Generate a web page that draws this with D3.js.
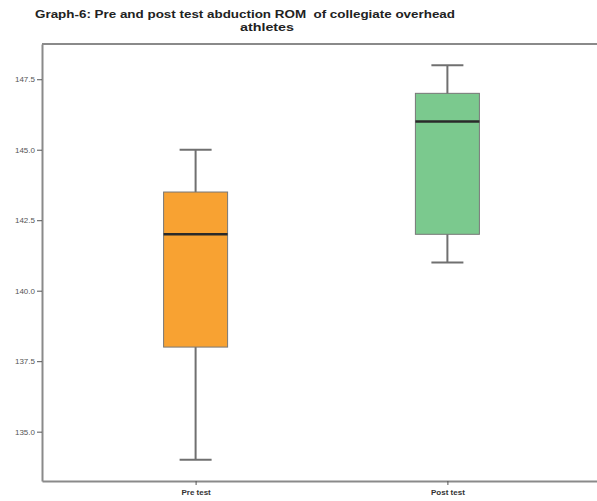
<!DOCTYPE html>
<html>
<head>
<meta charset="utf-8">
<script src="https://cdn.jsdelivr.net/npm/d3@7"></script>
<style>
  body { margin: 0; background: #fff; }
  svg text { font-family: Arial, "Liberation Sans", sans-serif; }
</style>
</head>
<body>
<svg id="chart" width="597" height="501"></svg>
<script>
// box plot data
var groups = ["Pre test", "Post test"];
var whiskerLow = [134, 141];
var q1 = [138, 142];
var median = [142, 146];
var q3 = [143.5, 147];
var whiskerHigh = [145, 148];
var fills = ["#F8A232", "#7BC98E"];
var yTicks = [135, 137.5, 140, 142.5, 145, 147.5];

var svg = d3.select("#chart");

var x = d3.scalePoint().domain(groups).range([42, 601]).padding(0.61);
var y = d3.scaleLinear().domain([133.25, 148.75]).range([481, 44]);

// title
svg.append("text").attr("x", 245).attr("y", 18).attr("text-anchor", "middle")
  .attr("xml:space", "preserve")
  .attr("textLength", 420).attr("lengthAdjust", "spacingAndGlyphs")
  .style("font-size", "11px").style("font-weight", "bold").attr("fill", "#222")
  .text("Graph-6: Pre and post test abduction ROM  of collegiate overhead");
svg.append("text").attr("x", 267).attr("y", 31).attr("text-anchor", "middle")
  .attr("textLength", 54).attr("lengthAdjust", "spacingAndGlyphs")
  .style("font-size", "11px").style("font-weight", "bold").attr("fill", "#222")
  .text("athletes");

// frame top
svg.append("line").attr("x1", 42).attr("x2", 597).attr("y1", 44).attr("y2", 44)
  .attr("stroke", "#8a8a8a").attr("stroke-width", 2);

// y axis
var yAxis = d3.axisLeft(y).tickValues(yTicks).tickFormat(d3.format(".1f"))
  .tickSize(5).tickSizeOuter(0).tickPadding(2);
var gy = svg.append("g").attr("transform", "translate(42,0)").call(yAxis);
gy.select(".domain").attr("stroke", "#8a8a8a").attr("stroke-width", 2);
gy.selectAll(".tick line").attr("stroke", "#555");
gy.selectAll(".tick text").style("font-size", "8px").attr("fill", "#555");

// x axis
var xAxis = d3.axisBottom(x).tickSize(4).tickSizeOuter(0).tickPadding(4);
var gx = svg.append("g").attr("transform", "translate(0,481)").call(xAxis);
gx.select(".domain").attr("stroke", "#8a8a8a").attr("stroke-width", 2);
gx.selectAll(".tick line").attr("stroke", "#555");
gx.selectAll(".tick text").style("font-size", "8px").style("font-weight", "bold").attr("fill", "#333");

var boxW = 64, capW = 32;
var boxes = svg.selectAll("g.box").data(groups).enter().append("g").attr("class", "box");

// whiskers
boxes.append("line")
  .attr("x1", function(d) { return x(d); }).attr("x2", function(d) { return x(d); })
  .attr("y1", function(d, i) { return y(whiskerHigh[i]); })
  .attr("y2", function(d, i) { return y(whiskerLow[i]); })
  .attr("stroke", "#707070").attr("stroke-width", 2);
boxes.append("line")
  .attr("x1", function(d) { return x(d) - capW / 2; }).attr("x2", function(d) { return x(d) + capW / 2; })
  .attr("y1", function(d, i) { return y(whiskerHigh[i]); })
  .attr("y2", function(d, i) { return y(whiskerHigh[i]); })
  .attr("stroke", "#707070").attr("stroke-width", 2);
boxes.append("line")
  .attr("x1", function(d) { return x(d) - capW / 2; }).attr("x2", function(d) { return x(d) + capW / 2; })
  .attr("y1", function(d, i) { return y(whiskerLow[i]); })
  .attr("y2", function(d, i) { return y(whiskerLow[i]); })
  .attr("stroke", "#707070").attr("stroke-width", 2);

// box
boxes.append("rect")
  .attr("x", function(d) { return x(d) - boxW / 2; })
  .attr("y", function(d, i) { return y(q3[i]); })
  .attr("width", boxW)
  .attr("height", function(d, i) { return y(q1[i]) - y(q3[i]); })
  .attr("fill", function(d, i) { return fills[i]; })
  .attr("stroke", "#777").attr("stroke-width", 1);

// median
boxes.append("line")
  .attr("x1", function(d) { return x(d) - boxW / 2; }).attr("x2", function(d) { return x(d) + boxW / 2; })
  .attr("y1", function(d, i) { return y(median[i]); })
  .attr("y2", function(d, i) { return y(median[i]); })
  .attr("stroke", "#2a2a2a").attr("stroke-width", 2.5);
</script>
</body>
</html>
